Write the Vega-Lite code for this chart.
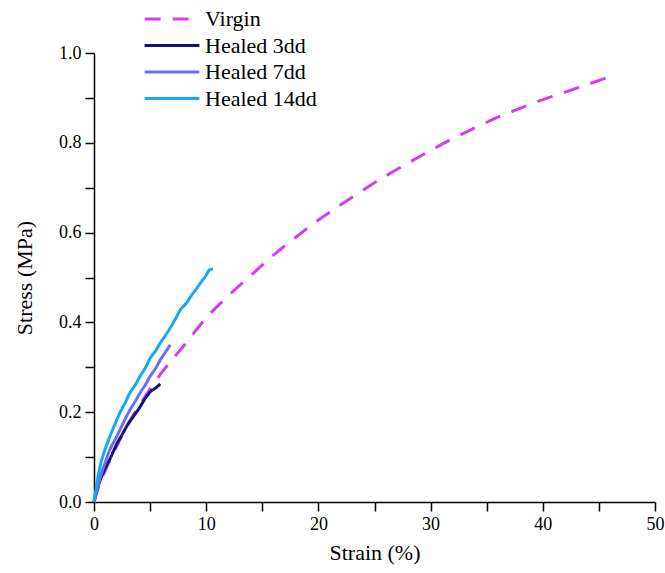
{
  "$schema": "https://vega.github.io/schema/vega-lite/v6.json",
  "width": 561,
  "height": 449,
  "autosize": {"type": "none"},
  "padding": {"left": 94, "top": 53, "right": 10, "bottom": 71},
  "config": {
    "view": {"stroke": null},
    "axis": {"grid": false, "domainColor": "black", "domainWidth": 1.5, "tickColor": "black", "tickWidth": 1.5, "tickSize": 9, "labelColor": "black", "titleColor": "black", "labelFontSize": 18, "titleFontSize": 22, "titleFontWeight": "normal"}
  },
  "data": {"values": [
    {"s": "Virgin", "x": 0, "y": 0},
    {"s": "Virgin", "x": 0.5, "y": 0.04},
    {"s": "Virgin", "x": 1, "y": 0.07},
    {"s": "Virgin", "x": 1.5, "y": 0.097},
    {"s": "Virgin", "x": 2, "y": 0.123},
    {"s": "Virgin", "x": 3, "y": 0.172},
    {"s": "Virgin", "x": 4, "y": 0.213},
    {"s": "Virgin", "x": 5, "y": 0.252},
    {"s": "Virgin", "x": 6, "y": 0.287},
    {"s": "Virgin", "x": 7, "y": 0.318},
    {"s": "Virgin", "x": 8, "y": 0.348},
    {"s": "Virgin", "x": 10, "y": 0.41},
    {"s": "Virgin", "x": 12, "y": 0.46},
    {"s": "Virgin", "x": 14, "y": 0.505},
    {"s": "Virgin", "x": 16, "y": 0.55},
    {"s": "Virgin", "x": 18, "y": 0.59},
    {"s": "Virgin", "x": 20, "y": 0.628},
    {"s": "Virgin", "x": 22, "y": 0.662},
    {"s": "Virgin", "x": 24, "y": 0.695},
    {"s": "Virgin", "x": 26, "y": 0.726},
    {"s": "Virgin", "x": 28, "y": 0.755},
    {"s": "Virgin", "x": 30, "y": 0.783},
    {"s": "Virgin", "x": 32, "y": 0.81},
    {"s": "Virgin", "x": 34, "y": 0.834},
    {"s": "Virgin", "x": 36, "y": 0.857},
    {"s": "Virgin", "x": 38, "y": 0.877},
    {"s": "Virgin", "x": 40, "y": 0.896},
    {"s": "Virgin", "x": 42, "y": 0.913},
    {"s": "Virgin", "x": 44, "y": 0.93},
    {"s": "Virgin", "x": 46.5, "y": 0.952},
    {"s": "Healed 3dd", "x": 0, "y": 0},
    {"s": "Healed 3dd", "x": 0.3, "y": 0.03},
    {"s": "Healed 3dd", "x": 0.6, "y": 0.052},
    {"s": "Healed 3dd", "x": 1, "y": 0.075},
    {"s": "Healed 3dd", "x": 1.5, "y": 0.1},
    {"s": "Healed 3dd", "x": 2, "y": 0.128},
    {"s": "Healed 3dd", "x": 2.5, "y": 0.15},
    {"s": "Healed 3dd", "x": 3, "y": 0.172},
    {"s": "Healed 3dd", "x": 3.5, "y": 0.19},
    {"s": "Healed 3dd", "x": 4, "y": 0.208},
    {"s": "Healed 3dd", "x": 4.5, "y": 0.228},
    {"s": "Healed 3dd", "x": 5, "y": 0.245},
    {"s": "Healed 3dd", "x": 5.5, "y": 0.254},
    {"s": "Healed 3dd", "x": 5.9, "y": 0.263},
    {"s": "Healed 7dd", "x": 0, "y": 0},
    {"s": "Healed 7dd", "x": 0.5, "y": 0.05},
    {"s": "Healed 7dd", "x": 1, "y": 0.088},
    {"s": "Healed 7dd", "x": 1.4, "y": 0.116},
    {"s": "Healed 7dd", "x": 1.9, "y": 0.14},
    {"s": "Healed 7dd", "x": 2.3, "y": 0.16},
    {"s": "Healed 7dd", "x": 2.8, "y": 0.186},
    {"s": "Healed 7dd", "x": 3.2, "y": 0.205},
    {"s": "Healed 7dd", "x": 3.7, "y": 0.225},
    {"s": "Healed 7dd", "x": 4.1, "y": 0.243},
    {"s": "Healed 7dd", "x": 4.6, "y": 0.262},
    {"s": "Healed 7dd", "x": 5, "y": 0.28},
    {"s": "Healed 7dd", "x": 5.5, "y": 0.298},
    {"s": "Healed 7dd", "x": 5.9, "y": 0.316},
    {"s": "Healed 7dd", "x": 6.4, "y": 0.335},
    {"s": "Healed 7dd", "x": 6.8, "y": 0.35},
    {"s": "Healed 14dd", "x": 0, "y": 0},
    {"s": "Healed 14dd", "x": 0.5, "y": 0.075},
    {"s": "Healed 14dd", "x": 1, "y": 0.118},
    {"s": "Healed 14dd", "x": 1.4, "y": 0.145},
    {"s": "Healed 14dd", "x": 1.9, "y": 0.175},
    {"s": "Healed 14dd", "x": 2.3, "y": 0.198},
    {"s": "Healed 14dd", "x": 2.8, "y": 0.222},
    {"s": "Healed 14dd", "x": 3.2, "y": 0.243},
    {"s": "Healed 14dd", "x": 3.7, "y": 0.262},
    {"s": "Healed 14dd", "x": 4.1, "y": 0.28},
    {"s": "Healed 14dd", "x": 4.6, "y": 0.3},
    {"s": "Healed 14dd", "x": 5, "y": 0.32},
    {"s": "Healed 14dd", "x": 5.5, "y": 0.337},
    {"s": "Healed 14dd", "x": 5.9, "y": 0.354},
    {"s": "Healed 14dd", "x": 6.4, "y": 0.372},
    {"s": "Healed 14dd", "x": 6.8, "y": 0.388},
    {"s": "Healed 14dd", "x": 7.3, "y": 0.41},
    {"s": "Healed 14dd", "x": 7.7, "y": 0.428},
    {"s": "Healed 14dd", "x": 8.2, "y": 0.442},
    {"s": "Healed 14dd", "x": 8.6, "y": 0.457},
    {"s": "Healed 14dd", "x": 9.1, "y": 0.474},
    {"s": "Healed 14dd", "x": 9.5, "y": 0.488},
    {"s": "Healed 14dd", "x": 10, "y": 0.505},
    {"s": "Healed 14dd", "x": 10.3, "y": 0.517},
    {"s": "Healed 14dd", "x": 10.6, "y": 0.519}
  ]},
  "mark": {"type": "line", "strokeWidth": 3, "interpolate": "monotone"},
  "encoding": {
    "x": {"field": "x", "type": "quantitative", "title": "Strain (%)",
      "scale": {"domain": [0, 50], "nice": false},
      "axis": {"labelFont": "Times New Roman", "titleFont": "Times New Roman", "values": [0,5,10,15,20,25,30,35,40,45,50], "labelExpr": "datum.value % 10 == 0 ? datum.label : ''", "labelPadding": 4, "titlePadding": 9, "labelFlush": false}},
    "y": {"field": "y", "type": "quantitative", "title": "Stress (MPa)",
      "scale": {"domain": [0, 1], "nice": false},
      "axis": {"labelFont": "Times New Roman", "titleFont": "Times New Roman", "values": [0,0.1,0.2,0.3,0.4,0.5,0.6,0.7,0.8,0.9,1.0], "labelExpr": "round(datum.value*10) % 2 == 0 ? format(datum.value, '.1f') : ''", "labelPadding": 4, "titlePadding": 22, "labelFlush": false}},
    "color": {"field": "s", "type": "nominal",
      "scale": {"domain": ["Virgin", "Healed 3dd", "Healed 7dd", "Healed 14dd"], "range": ["#d63cf2", "#12127a", "#6a6ef2", "#16a8f2"]},
      "legend": {"title": null, "orient": "none", "legendX": 49, "legendY": -47, "symbolType": "stroke", "symbolSize": 3000, "symbolStrokeWidth": 3, "labelFont": "Times New Roman", "labelFontSize": 22, "labelColor": "black", "rowPadding": 0.5, "clipHeight": 26, "labelOffset": 4, "padding": 0}},
    "strokeDash": {"field": "s", "type": "nominal",
      "scale": {"domain": ["Virgin", "Healed 3dd", "Healed 7dd", "Healed 14dd"], "range": [[16, 12], [1, 0], [1, 0], [1, 0]]},
      "legend": {"title": null, "orient": "none", "legendX": 49, "legendY": -47, "symbolType": "stroke", "symbolSize": 3000, "symbolStrokeWidth": 3, "labelFont": "Times New Roman", "labelFontSize": 22, "labelColor": "black", "rowPadding": 0.5, "clipHeight": 26, "labelOffset": 4, "padding": 0}}
  }
}
